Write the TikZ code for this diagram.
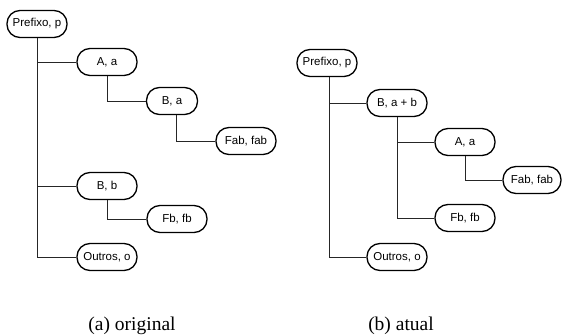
\documentclass[tikz,border=0pt]{standalone}
\usepackage{fontspec}
\setmainfont{Liberation Serif}
\setsansfont{Liberation Sans}
\begin{document}
\begin{tikzpicture}[x=1pt,y=-1pt,
  tnode/.style={draw, line width=1.3pt, rounded corners=13pt, minimum width=60pt,
    minimum height=27pt, inner sep=1pt, font=\sffamily\fontsize{11.5}{13}\selectfont},
  conn/.style={line width=0.9pt, draw=black!85},
  captext/.style={font=\fontsize{19.5}{22}\selectfont}]
\useasboundingbox (0,0) rectangle (562,336);
% left tree
\node[tnode] (lp) at (37,24) {Prefixo, p};
\node[tnode] (la) at (107,62) {A, a};
\node[tnode, minimum width=51pt] (lba) at (172,101) {B, a};
\node[tnode] (lfab) at (246,141) {Fab, fab};
\node[tnode] (lbb) at (107,186) {B, b};
\node[tnode] (lfb) at (177,219) {Fb, fb};
\node[tnode] (lo) at (107,257) {Outros, o};
\draw[conn] (lp.south) |- (la.west);
\draw[conn] (lp.south) |- (lbb.west);
\draw[conn] (lp.south) |- (lo.west);
\draw[conn] (la.south) |- (lba.west);
\draw[conn] ([xshift=4pt]lba.south) |- (lfab.west);
\draw[conn] (lbb.south) |- (lfb.west);
% right tree
\node[tnode] (rp) at (327,63) {Prefixo, p};
\node[tnode] (rbab) at (397,103) {B, a + b};
\node[tnode] (ra) at (465,142) {A, a};
\node[tnode, minimum width=58pt] (rfab) at (532,180) {Fab, fab};
\node[tnode] (rfb) at (465,218) {Fb, fb};
\node[tnode] (ro) at (397,257) {Outros, o};
\draw[conn] ([xshift=2pt]rp.south) |- (rbab.west);
\draw[conn] ([xshift=2pt]rp.south) |- (ro.west);
\draw[conn] (rbab.south) |- (ra.west);
\draw[conn] (rbab.south) |- (rfb.west);
\draw[conn] (ra.south) |- (rfab.west);
% captions
\node[captext] (ca) at (132,326) {(a) original};
\node[captext] (cb) at (401,326) {(b) atual};
\end{tikzpicture}
\end{document}
